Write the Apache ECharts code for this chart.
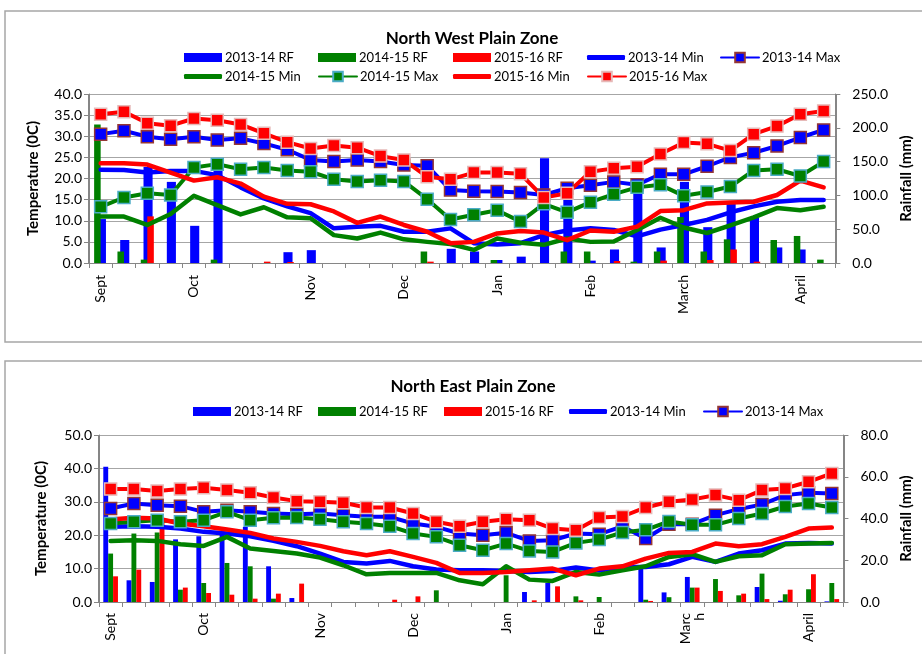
<!DOCTYPE html>
<html>
<head>
<meta charset="utf-8">
<title>Weekly temperature and rainfall – plain zones</title>
<script src="https://cdn.jsdelivr.net/npm/echarts@6/dist/echarts.min.js"></script>
<style>
  html, body { margin: 0; padding: 0; background: #fff; }
  #nw { position: absolute; left: 0; top: 0; width: 922px; height: 352px; }
  #ne { position: absolute; left: 0; top: 352px; width: 922px; height: 302px; }
</style>
</head>
<body>
<div id="nw"></div>
<div id="ne"></div>
<script>
// ---- Standard weeks, September to April (month name on its first week) ----
const weeks = ['Sept', '', '', '', 'Oct', '', '', '', '', 'Nov', '', '', '', 'Dec', '', '', '',
               'Jan', '', '', '', 'Feb', '', '', '', 'March', '', '', '', '', 'April', ''];

const seasons = ['2013-14', '2014-15', '2015-16'];

// ---- North West Plain Zone: rainfall (mm) ----
const nwRf1314 = [65, 34, 142, 120, 55, 140, 0, 0, 16, 19, 0, 0, 0, 0, 0, 21, 17, 4.4, 9.4, 155, 118, 3.5, 20, 115, 23, 120, 53, 88, 67, 23, 20, 0];
const nwRf1415 = [205, 17, 5, 0, 0, 5, 0, 0, 0, 0, 0, 0, 0, 0, 17, 0, 0, 4.4, 0, 0, 17, 17, 0, 2, 17, 68, 17, 35, 0, 34, 40, 5];
const nwRf1516 = [0, 0, 69, 0, 0, 0, 0, 2, 1.5, 0, 0, 0, 0, 0, 2, 0, 0, 0, 0, 0, 0, 0, 3, 0, 3.5, 0, 4.4, 20, 2, 0, 0, 0];

// ---- North West Plain Zone: temperature (°C) ----
const nwMin1314 = [22.1, 22.0, 21.4, 21.8, 21.8, 20.8, 17.9, 15.3, 13.4, 11.8, 8.2, 8.6, 8.8, 7.4, 7.4, 8.2, 4.7, 4.4, 4.7, 6.6, 7.7, 8.2, 7.8, 6.3, 7.9, 9.0, 10.2, 12.0, 13.4, 14.5, 14.9, 14.9];
const nwMax1314 = [30.5, 31.3, 29.9, 29.3, 29.9, 29.1, 29.5, 28.3, 26.8, 24.4, 24.0, 24.4, 24.0, 23.2, 23.0, 17.3, 17.0, 16.9, 16.7, 16.1, 17.7, 18.4, 19.2, 18.5, 21.0, 21.0, 22.9, 25.0, 26.1, 27.7, 29.7, 31.5];
const nwMin1415 = [11.0, 11.0, 9.0, 11.6, 15.9, 13.7, 11.5, 13.2, 10.8, 10.6, 6.6, 5.8, 7.2, 5.6, 5.0, 4.5, 3.1, 5.8, 4.8, 4.3, 5.8, 5.0, 5.1, 7.8, 10.7, 8.4, 7.1, 8.9, 10.8, 13.0, 12.5, 13.3];
const nwMax1415 = [13.3, 15.5, 16.5, 16.1, 22.6, 23.4, 22.2, 22.6, 21.9, 21.6, 19.8, 19.3, 19.6, 19.3, 15.1, 10.3, 11.4, 12.5, 9.8, 14.0, 12.0, 14.4, 16.3, 17.9, 18.5, 15.9, 16.8, 18.1, 21.9, 22.2, 20.6, 24.0];
const nwMin1516 = [23.6, 23.6, 23.3, 21.4, 19.5, 20.3, 18.8, 15.7, 14.0, 13.9, 12.2, 9.5, 11.0, 9.0, 7.4, 4.7, 5.0, 7.0, 7.6, 7.2, 5.4, 7.7, 7.4, 8.6, 12.3, 12.5, 14.1, 14.3, 14.5, 16.1, 19.5, 17.9];
const nwMax1516 = [35.2, 35.8, 33.1, 32.5, 34.2, 33.8, 32.8, 30.7, 28.6, 27.1, 27.8, 27.3, 25.3, 24.4, 20.4, 19.8, 21.4, 21.4, 21.1, 15.5, 16.5, 21.6, 22.4, 22.8, 25.8, 28.5, 28.2, 26.6, 30.5, 32.4, 35.2, 36.0];

// ---- North East Plain Zone: rainfall (mm) ----
const neRf1314 = [64.8, 10.4, 9.6, 30, 31.5, 33.6, 36, 17.1, 1.9, 0, 0, 0, 0, 0, 0, 0, 0, 0, 4.8, 9.1, 0, 0, 0, 17, 4.6, 12, 0, 0, 7.2, 0.6, 0, 0.3];
const neRf1415 = [23.2, 32.8, 33.3, 5.9, 9.1, 18.7, 17.1, 1.6, 0, 0, 0, 0, 0, 0, 5.6, 0, 0, 12.8, 0, 0, 2.7, 2.4, 0, 1.1, 2.3, 6.9, 11, 3.2, 13.6, 3.7, 6.1, 9.1];
const neRf1516 = [12.3, 15.5, 38, 6.9, 4.3, 3.5, 1.6, 4.0, 8.8, 0, 0, 0, 1.1, 2.7, 0, 0, 0, 0, 0.8, 7.5, 0.8, 0, 0, 0.5, 0, 6.9, 5.3, 4.0, 1.4, 5.9, 13.3, 1.4];

// ---- North East Plain Zone: temperature (°C) ----
const neMin1314 = [22.5, 22.7, 22.5, 22.0, 21.0, 20.5, 19.7, 18.3, 16.7, 14.5, 12.0, 11.5, 12.3, 10.7, 9.7, 9.5, 9.5, 9.3, 9.0, 9.3, 10.3, 9.4, 10.5, 10.5, 11.3, 13.5, 12.0, 14.5, 15.5, 17.5, 17.7, 17.5];
const neMax1314 = [28.0, 29.5, 29.0, 28.7, 27.0, 27.5, 27.0, 26.5, 26.3, 26.5, 26.0, 25.5, 25.5, 23.5, 22.5, 20.5, 20.0, 20.7, 18.3, 18.5, 20.5, 20.3, 22.6, 19.0, 23.3, 23.3, 26.0, 27.8, 29.2, 32.0, 32.7, 32.5];
const neMin1415 = [18.3, 18.5, 18.3, 17.3, 16.8, 19.5, 16.0, 15.3, 14.5, 13.3, 11.0, 8.3, 8.7, 8.7, 8.7, 6.5, 5.3, 10.7, 6.7, 6.3, 9.0, 8.2, 9.5, 10.7, 13.5, 14.3, 12.0, 13.7, 14.0, 17.3, 17.5, 17.7];
const neMax1415 = [23.5, 24.0, 24.5, 24.0, 24.5, 27.0, 24.5, 25.2, 25.3, 24.8, 24.0, 23.5, 22.7, 20.5, 19.5, 17.0, 15.5, 17.5, 15.3, 15.0, 17.7, 18.7, 20.8, 21.6, 24.1, 23.1, 23.1, 25.0, 26.5, 28.6, 29.5, 28.3];
const neMin1516 = [24.7, 25.2, 25.0, 23.5, 22.7, 21.7, 20.7, 19.0, 18.0, 16.8, 15.2, 14.0, 15.2, 13.5, 11.7, 8.7, 8.7, 9.0, 9.5, 10.0, 8.0, 10.0, 10.7, 13.0, 14.7, 15.0, 17.5, 16.7, 17.3, 19.5, 22.0, 22.3];
const neMax1516 = [33.8, 33.8, 33.2, 33.8, 34.2, 33.5, 32.7, 31.3, 30.2, 30.0, 29.7, 28.3, 28.3, 26.5, 24.0, 22.7, 24.0, 24.8, 24.5, 22.0, 21.5, 25.3, 25.6, 28.3, 30.0, 30.7, 32.0, 30.5, 33.5, 34.0, 36.0, 38.5];

// ---- Shared styling ----
const FONT = 'Lato, "Noto Sans", sans-serif';
const AXIS_GRAY = '#868686';
const GRID_GRAY = '#A6A6A6';
const SEASON_COLORS = ['#0000FF', '#008000', '#FF0000'];
const MARKER_BORDERS = ['#953735', '#4BACC6', '#E6B9B8'];

function buildOption(cfg) {
  const series = [];

  // Weekly rainfall bars (secondary axis); cfg.barOrder sets their left-to-right slot order
  cfg.barOrder.forEach(function (k) {
    series.push({
      type: 'bar',
      name: seasons[k] + ' RF',
      data: cfg.rain[k],
      yAxisIndex: 1,
      barWidth: cfg.barWidth[k],
      barGap: cfg.barGap,
      z: cfg.barZ[k],
      itemStyle: { color: SEASON_COLORS[k] },
      emphasis: { disabled: true }
    });
  });

  // Min (plain) and Max (square markers) temperature lines per season
  for (let k = 0; k < 3; k++) {
    series.push({
      type: 'line',
      name: seasons[k] + ' Min',
      data: cfg.tmin[k],
      symbol: 'none',
      lineStyle: { width: 4.5, color: SEASON_COLORS[k], cap: 'round', join: 'round' },
      itemStyle: { color: SEASON_COLORS[k] },
      emphasis: { disabled: true }
    });
    series.push({
      type: 'line',
      name: seasons[k] + ' Max',
      data: cfg.tmax[k],
      symbol: 'rect',
      symbolSize: 12,
      showAllSymbol: true,
      lineStyle: { width: 4, color: SEASON_COLORS[k], cap: 'round', join: 'round' },
      itemStyle: { color: SEASON_COLORS[k], borderColor: MARKER_BORDERS[k], borderWidth: 1.5 },
      emphasis: { disabled: true }
    });
  }

  // One legend block per entry so the entries sit in fixed columns
  const legend = cfg.legendSlots.map(function (slot) {
    const kind = / RF$/.test(slot[0]) ? 'bar' : (/ Min$/.test(slot[0]) ? 'min' : 'max');
    const block = {
      data: [slot[0]],
      left: slot[1],
      top: slot[2] - 8,
      padding: 0,
      itemWidth: 38,
      itemHeight: kind === 'bar' ? 9 : (kind === 'min' ? 5 : 12),
      selectedMode: false,
      textStyle: { fontFamily: FONT, fontSize: 13, color: '#000', padding: [0, 0, 0, -2] }
    };
    if (kind === 'bar') block.icon = 'rect';
    if (kind === 'min') block.icon = 'roundRect';
    return block;
  });

  const labelStyle = { fontFamily: FONT, fontSize: 14, color: '#000' };

  const xAxis = {
    type: 'category',
    data: weeks,
    boundaryGap: true,
    axisLine: { lineStyle: { color: AXIS_GRAY, width: 1 } },
    axisTick: { show: true, interval: 0, length: 5, lineStyle: { color: AXIS_GRAY } },
    axisLabel: {
      interval: 0, rotate: 90, margin: cfg.xLabelMargin,
      fontFamily: FONT, fontSize: 14, color: '#000',
      formatter: cfg.monthFormatter,
      // lead-in space pushes the wrapped tail of a month name up to the axis
      rich: { tail: Object.assign({ padding: [0, 0, 0, 23] }, labelStyle) }
    },
    splitLine: {
      show: true,
      interval: function (index) { return index === 23; },
      lineStyle: { color: AXIS_GRAY, width: 2 }
    }
  };

  const nameStyle = { fontFamily: FONT, fontSize: 15, fontWeight: 'bold', color: '#000' };

  const yAxis = [{
    type: 'value', min: 0, max: cfg.tMax, interval: cfg.tStep,
    name: 'Temperature (0C)', nameLocation: 'middle', nameRotate: 90, nameGap: cfg.leftNameGap,
    nameTextStyle: nameStyle,
    axisLine: { show: true, lineStyle: { color: AXIS_GRAY } },
    axisTick: { show: true, length: 5, lineStyle: { color: AXIS_GRAY } },
    axisLabel: Object.assign({ formatter: function (v) { return v.toFixed(1); }, margin: 7 }, labelStyle),
    splitLine: { show: true, lineStyle: { color: GRID_GRAY, width: 1.2 } }
  }, {
    type: 'value', position: 'right', min: 0, max: cfg.rMax, interval: cfg.rStep,
    name: 'Rainfall (mm)', nameLocation: 'middle', nameRotate: 90, nameGap: cfg.rightNameGap,
    nameTextStyle: nameStyle,
    axisLine: { show: true, lineStyle: { color: AXIS_GRAY } },
    axisTick: { show: true, length: 5, lineStyle: { color: AXIS_GRAY } },
    axisLabel: Object.assign({ formatter: function (v) { return v.toFixed(1); }, margin: cfg.rightLabelMargin }, labelStyle),
    splitLine: { show: false }
  }];

  return {
    animation: false,
    backgroundColor: '#fff',
    title: {
      text: cfg.title,
      left: cfg.titleX, top: cfg.titleTop, padding: 0,
      textAlign: 'center',
      textStyle: { fontFamily: FONT, fontSize: 17, fontWeight: 'bold', color: '#000' }
    },
    graphic: [{
      type: 'rect', silent: true, z: -10,
      shape: cfg.frame,
      style: { fill: 'none', stroke: '#A6A6A6', lineWidth: 1.5 }
    }],
    legend: legend,
    grid: cfg.grid,
    xAxis: xAxis,
    yAxis: yAxis,
    series: series
  };
}

// ---- North West Plain Zone ----
// wide 2013-14 bar centred on the week, narrower 2014-15 / 2015-16 bars on either side over it
echarts.init(document.getElementById('nw'), null, { renderer: 'canvas' }).setOption(buildOption({
  title: 'North West Plain Zone',
  titleX: 472, titleTop: 30,
  frame: { x: 5, y: 11, width: 1000, height: 331 },
  grid: { left: 89, right: 75, top: 94, height: 169 },
  rain: [nwRf1314, nwRf1415, nwRf1516],
  tmin: [nwMin1314, nwMin1415, nwMin1516],
  tmax: [nwMax1314, nwMax1415, nwMax1516],
  barOrder: [1, 0, 2],
  barWidth: ['39%', '28%', '28%'],
  barGap: '-58.2%',
  barZ: [1.6, 1.8, 1.8],
  tMax: 40, tStep: 5, rMax: 250, rStep: 50,
  leftNameGap: 48, rightNameGap: 56, rightLabelMargin: 17,
  xLabelMargin: 12,
  monthFormatter: function (v) { return v; },
  legendSlots: [
    ['2013-14 RF', 184, 59], ['2014-15 RF', 318, 59], ['2015-16 RF', 453, 59],
    ['2013-14 Min', 587, 59], ['2013-14 Max', 720, 59],
    ['2014-15 Min', 184, 78], ['2014-15 Max', 318, 78], ['2015-16 Min', 453, 78],
    ['2015-16 Max', 587, 78]
  ]
}));

// ---- North East Plain Zone ----
echarts.init(document.getElementById('ne'), null, { renderer: 'canvas' }).setOption(buildOption({
  title: 'North East Plain Zone',
  titleX: 473, titleTop: 26,
  frame: { x: 5, y: 9, width: 1000, height: 400 },
  grid: { left: 99, right: 72, top: 83, height: 167 },
  rain: [neRf1314, neRf1415, neRf1516],
  tmin: [neMin1314, neMin1415, neMin1516],
  tmax: [neMax1314, neMax1415, neMax1516],
  barOrder: [0, 1, 2],
  barWidth: ['21%', '21%', '21%'],
  barGap: '0%',
  barZ: [1.8, 1.8, 1.8],
  tMax: 50, tStep: 10, rMax: 80, rStep: 20,
  leftNameGap: 50, rightNameGap: 52, rightLabelMargin: 17,
  xLabelMargin: 11,
  // the narrow category slot wraps "March" after its fourth letter
  monthFormatter: function (v) { return v === 'March' ? 'Marc\n{tail|h}' : v; },
  legendSlots: [
    ['2013-14 RF', 193, 61], ['2014-15 RF', 318, 61], ['2015-16 RF', 444, 61],
    ['2013-14 Min', 569, 61], ['2013-14 Max', 703, 61]
  ]
}));
</script>
</body>
</html>
